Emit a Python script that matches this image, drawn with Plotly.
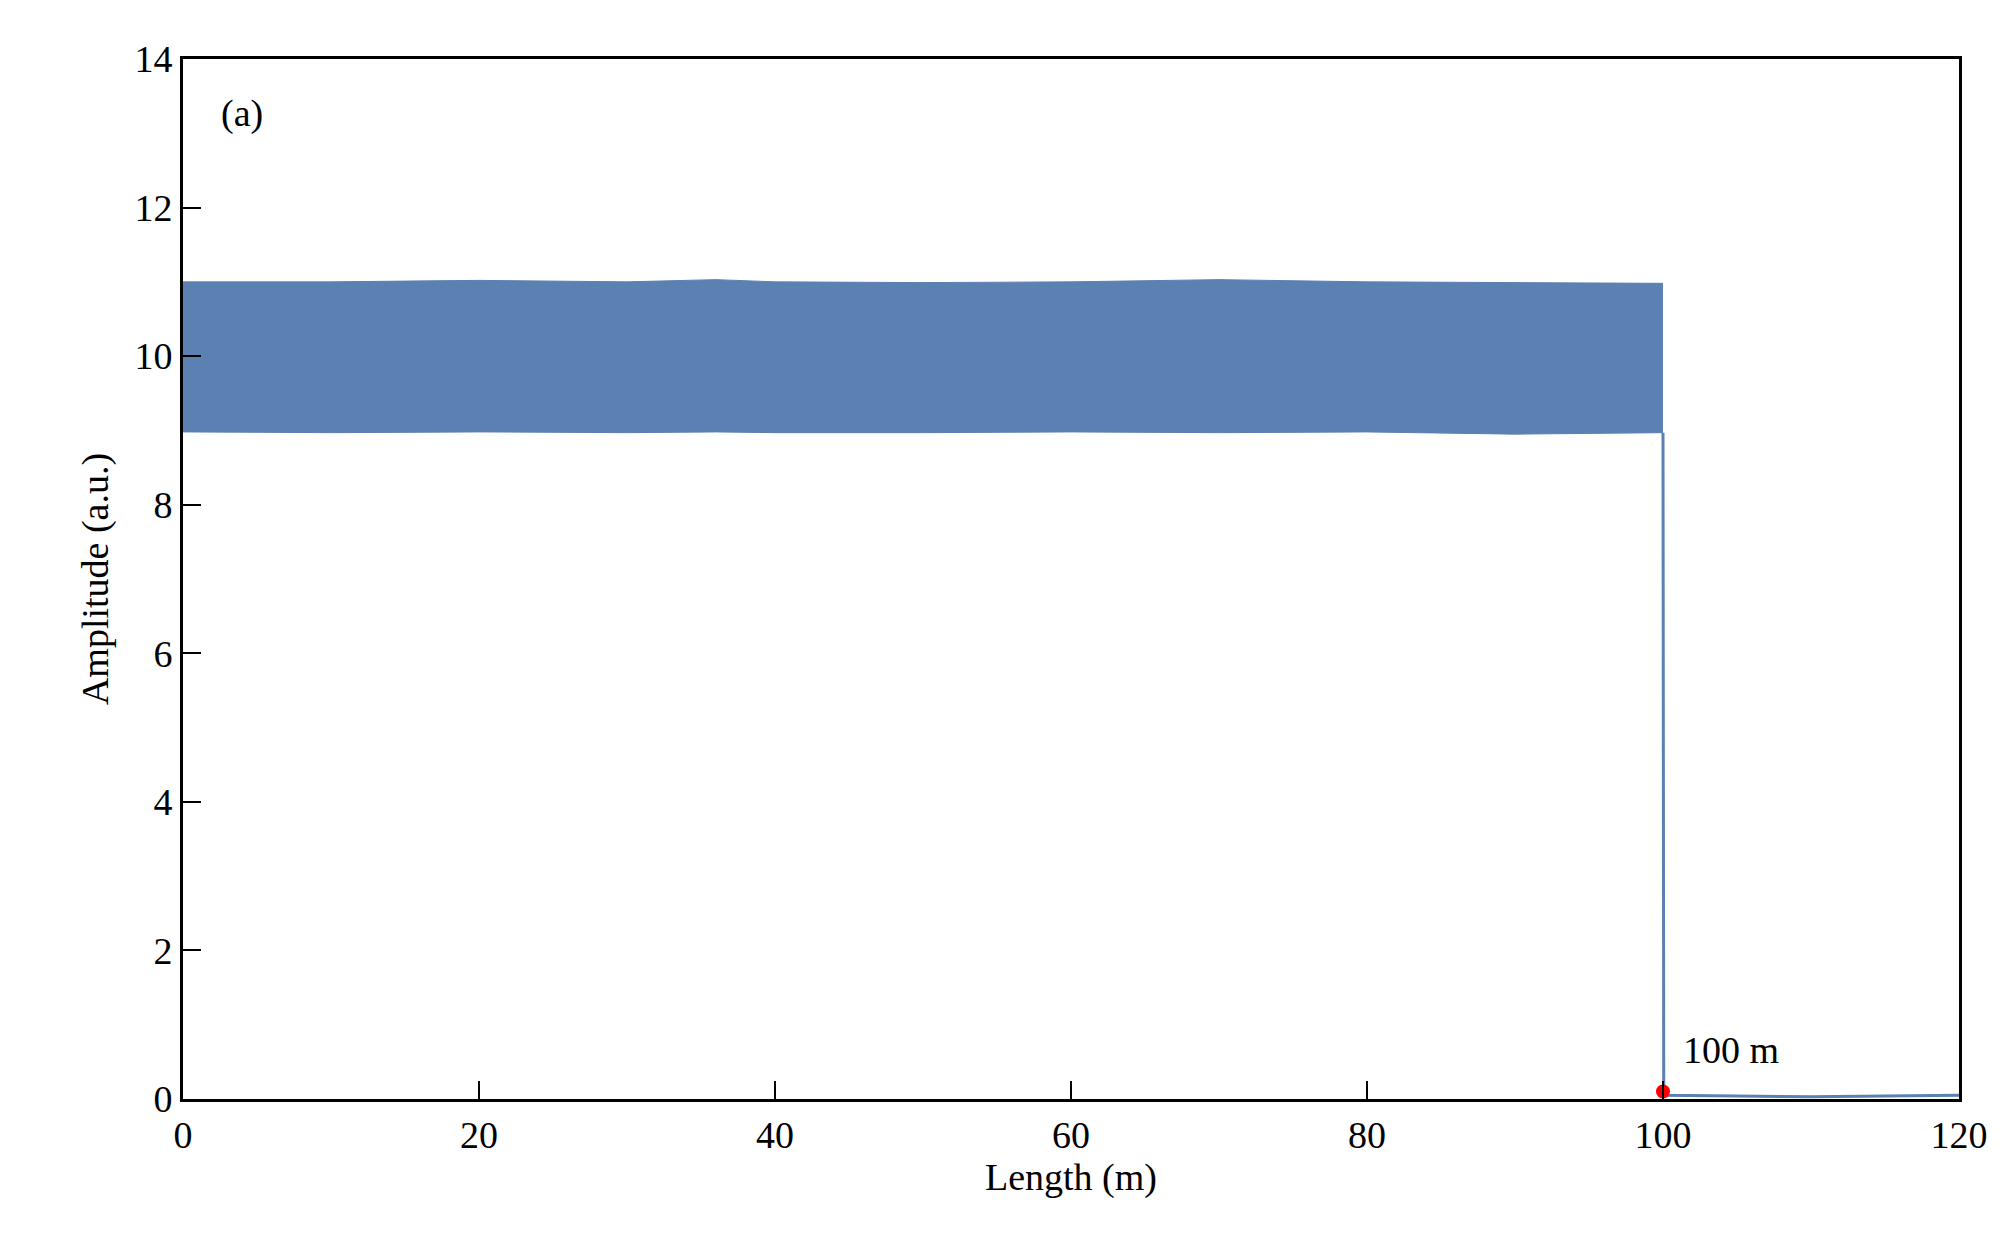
import plotly.graph_objects as go

# Envelope of the dense backscatter band
band_x = [0, 10, 20, 30, 36, 40, 50, 60, 70, 80, 90, 100]
band_upper = [11.0, 11.0, 11.02, 11.0, 11.03, 11.0, 10.99, 11.0, 11.03, 11.0, 10.99, 10.98]
band_lower = [8.98, 8.97, 8.98, 8.97, 8.98, 8.97, 8.97, 8.98, 8.97, 8.98, 8.95, 8.97]
# Tail after fibre end
tail_x = [100, 100.05, 105, 110, 115, 120]
tail_y = [8.97, 0.05, 0.04, 0.03, 0.04, 0.05]
end_x = [100]
end_y = [0.1]

blue = "#5b80b2"
fig = go.Figure()
fig.add_trace(go.Scatter(x=band_x, y=band_lower, mode="lines", line=dict(color=blue, width=1)))
fig.add_trace(go.Scatter(x=band_x, y=band_upper, mode="lines", line=dict(color=blue, width=1),
                         fill="tonexty", fillcolor=blue))
fig.add_trace(go.Scatter(x=tail_x, y=tail_y, mode="lines", line=dict(color=blue, width=3)))
fig.add_trace(go.Scatter(x=end_x, y=end_y, mode="markers", marker=dict(color="red", size=14)))

font = dict(family="Liberation Serif, Times New Roman, serif", size=38, color="black")
axis = dict(showline=True, linecolor="black", linewidth=3, mirror=True, ticks="inside",
            ticklen=18, tickwidth=2, tickcolor="black", showgrid=False, zeroline=False,
            tickfont=font)
fig.update_layout(
    width=2008, height=1237, showlegend=False, plot_bgcolor="white", paper_bgcolor="white",
    margin=dict(l=175, r=57, t=51, b=146), font=font,
    xaxis=dict(axis, range=[0, 120], dtick=20, title=dict(text="Length (m)", font=font, standoff=5)),
    yaxis=dict(axis, range=[0, 14], dtick=2, title=dict(text="Amplitude (a.u.)", font=font, standoff=15)),
    annotations=[
        dict(x=0.02, y=0.97, xref="paper", yref="paper", text="(a)", showarrow=False,
             xanchor="left", yanchor="top", font=font),
        dict(x=101.2, y=0.35, text="100 m", showarrow=False, xanchor="left", yanchor="bottom", font=font),
    ],
)
fig.write_html("out.html")
